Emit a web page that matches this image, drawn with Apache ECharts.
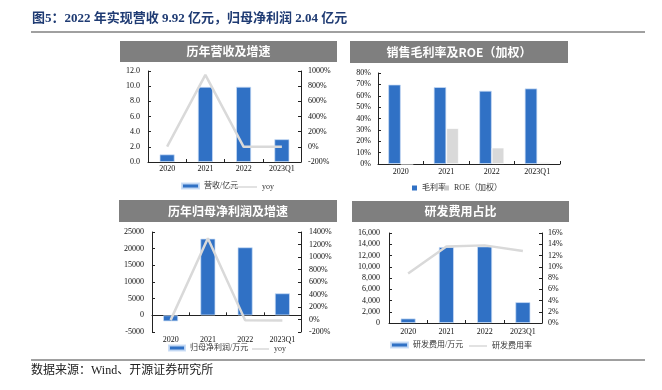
<!DOCTYPE html>
<html><head><meta charset="utf-8">
<script src="https://cdn.jsdelivr.net/npm/echarts@6/dist/echarts.min.js"></script>
<style>html,body{margin:0;padding:0;background:#fff}#c{width:662px;height:390px}</style>
</head><body><div id="c"></div>
<script>
var categories = ['2020', '2021', '2022', '2023Q1'];
// Panel 1
var revenue = [1.0, 9.9, 9.92, 3.0];           // 营收/亿元
var revenueYoy = [2, 950, 0, 0];                // yoy %
// Panel 2
var grossMargin = [69.8, 67.6, 64.4, 66.4];     // 毛利率 %
var roe = [0, 31.5, 14.4, 1.5];                 // ROE（加权） %
// Panel 3
var netProfit = [-1800, 23000, 20400, 6600];    // 归母净利润/万元
var netProfitYoy = [-10, 1300, -12, -15];       // yoy %
// Panel 4
var rdExpense = [800, 13500, 13600, 3700];      // 研发费用/万元
var rdRatio = [8.8, 13.6, 13.8, 12.8];          // 研发费用率 %

var BLUE = '#3071C5', GRAY = '#D9D9D9', HEAD = '#7F7F7F';
var SERIF = "'Liberation Serif','Noto Sans CJK SC'";
var chart = echarts.init(document.getElementById('c'));

function xAx(g, margin, extra) {
  var o = {
    type: 'category', gridIndex: g, data: categories,
    axisLine: { onZero: false, lineStyle: { color: '#222', width: 1 } },
    axisTick: { show: true, inside: true, length: 3, lineStyle: { color: '#222' } },
    axisLabel: { fontFamily: SERIF, fontSize: 8, color: '#111', margin: margin },
    splitLine: { show: false }
  };
  if (extra) Object.assign(o.axisLine, extra);
  return o;
}
function yAx(g, pos, min, max, interval, fmt, margin, showLine) {
  return {
    type: 'value', gridIndex: g, position: pos, min: min, max: max, interval: interval,
    axisLine: { show: showLine !== false, lineStyle: { color: '#222', width: 1 } },
    axisTick: { show: showLine !== false, inside: true, length: 3, lineStyle: { color: '#222' } },
    axisLabel: { fontFamily: SERIF, fontSize: 8, color: '#111', margin: margin, formatter: fmt },
    splitLine: { show: false }
  };
}
var pct = function (v) { return v + '%'; };
var barStyle = { color: BLUE, borderColor: 'rgba(200,220,245,0.9)', borderWidth: 0.8 };
var lineCommon = { type: 'line', symbol: 'none', lineStyle: { color: GRAY, width: 2.5 }, itemStyle: { color: GRAY }, z: 5 };

function legend(name, left, top, w, h, icon, color) {
  var l = {
    data: [name], left: left, top: top, itemWidth: w, itemHeight: h, padding: 0,
    selectedMode: false, icon: icon || 'rect',
    textStyle: { fontFamily: SERIF, fontSize: 8, color: '#333' }
  };
  if (color) l.itemStyle = { color: color, borderWidth: 0 };
  return l;
}
function header(x, y, w, h, text) {
  return [
    { type: 'rect', shape: { x: x, y: y, width: w, height: h }, style: { fill: HEAD } },
    { type: 'text', x: x + w / 2, y: y + h / 2, style: { text: text, fill: '#fff', fontSize: 12, fontWeight: 'bold', fontFamily: "'Noto Sans CJK SC'", align: 'center', verticalAlign: 'middle' } }
  ];
}

var option = {
  animation: false,
  backgroundColor: '#fff',
  grid: [
    { left: 148, top: 71, width: 153, height: 91 },
    { left: 378, top: 73, width: 182, height: 91 },
    { left: 152, top: 232, width: 149, height: 100 },
    { left: 389, top: 233, width: 153, height: 90 }
  ],
  xAxis: [
    xAx(0, 3),
    xAx(1, 4),
    xAx(2, 4, { onZero: true, onZeroAxisIndex: 3 }),
    xAx(3, 5)
  ],
  yAxis: [
    yAx(0, 'left', 0, 12, 2, function (v) { return v.toFixed(1); }, 8),
    yAx(0, 'right', -200, 1000, 200, pct, 7),
    yAx(1, 'left', 0, 80, 10, pct, 7),
    yAx(2, 'left', -5000, 25000, 5000, function (v) { return String(v); }, 8),
    yAx(2, 'right', -200, 1400, 200, pct, 8),
    yAx(3, 'left', 0, 16000, 2000, function (v) { return v.toLocaleString('en-US'); }, 9),
    yAx(3, 'right', 0, 16, 2, pct, 6)
  ],
  legend: [
    legend('营收/亿元', 181, 182, 17, 5),
    legend('yoy', 230, 183, 27, 1.5, 'rect', GRAY),
    legend('毛利率', 412, 184, 5, 5, 'rect', BLUE),
    legend('ROE（加权）', 444, 184, 5, 5, 'rect', '#C9C9C9'),
    legend('归母净利润/万元', 168, 344, 16, 5),
    legend('yoy', 252, 345, 17, 1.5, 'rect', GRAY),
    legend('研发费用/万元', 390, 341, 17, 5),
    legend('研发费用率', 469, 342, 18, 1.5, 'rect', GRAY)
  ],
  series: [
    { name: '营收/亿元', type: 'bar', xAxisIndex: 0, yAxisIndex: 0, data: revenue, barWidth: 15, itemStyle: barStyle },
    Object.assign({ name: 'yoy', xAxisIndex: 0, yAxisIndex: 1, data: revenueYoy }, lineCommon),
    { name: '毛利率', type: 'bar', xAxisIndex: 1, yAxisIndex: 2, data: grossMargin, barWidth: 12.5, barGap: '0%', itemStyle: barStyle },
    { name: 'ROE（加权）', type: 'bar', xAxisIndex: 1, yAxisIndex: 2, data: roe, barWidth: 12.5, barGap: '0%', itemStyle: { color: GRAY, borderColor: 'rgba(255,255,255,0.8)', borderWidth: 0.8 } },
    { name: '归母净利润/万元', type: 'bar', xAxisIndex: 2, yAxisIndex: 3, data: netProfit, barWidth: 15, itemStyle: barStyle },
    Object.assign({ name: 'yoy', xAxisIndex: 2, yAxisIndex: 4, data: netProfitYoy }, lineCommon),
    { name: '研发费用/万元', type: 'bar', xAxisIndex: 3, yAxisIndex: 5, data: rdExpense, barWidth: 15, itemStyle: barStyle },
    Object.assign({ name: '研发费用率', xAxisIndex: 3, yAxisIndex: 6, data: rdRatio }, lineCommon)
  ],
  graphic: [
    { type: 'text', left: 32, top: 12, style: { text: '图5：2022 年实现营收 9.92 亿元，归母净利润 2.04 亿元', fill: '#1F3B73', fontSize: 13, fontWeight: 'bold', fontFamily: SERIF } },
    { type: 'line', shape: { x1: 31, y1: 32, x2: 645, y2: 32 }, style: { stroke: '#808080', lineWidth: 1.5 } },
    { type: 'line', shape: { x1: 31, y1: 360, x2: 645, y2: 360 }, style: { stroke: '#404040', lineWidth: 1 } },
    { type: 'text', left: 31, top: 365, style: { text: '数据来源：Wind、开源证券研究所', fill: '#222', fontSize: 12, fontFamily: SERIF } }
  ].concat(header(120, 41, 217, 21, '历年营收及增速'))
   .concat(header(350, 41, 218, 22, '销售毛利率及ROE（加权）'))
   .concat(header(119, 200, 218, 22, '历年归母净利润及增速'))
   .concat(header(352, 201, 217, 21, '研发费用占比'))
};
chart.setOption(option);
</script></body></html>
